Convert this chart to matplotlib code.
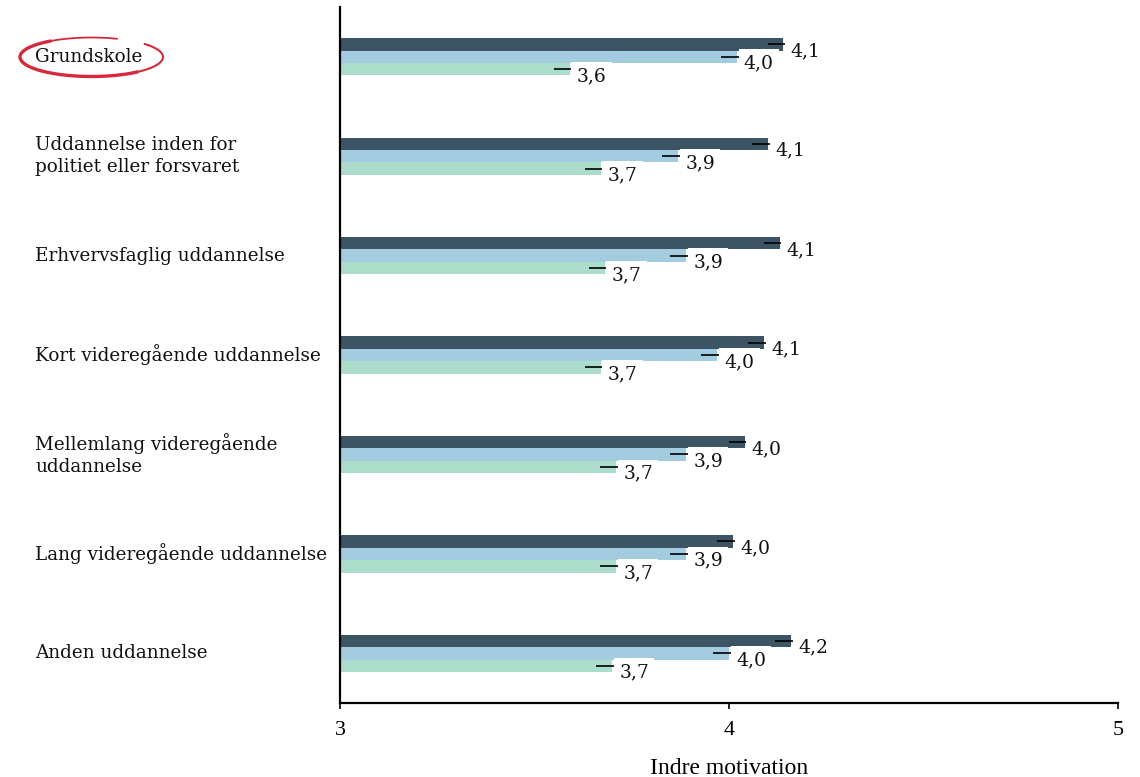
import matplotlib
matplotlib.use("Agg")
import matplotlib.pyplot as plt
from matplotlib.lines import Line2D
import numpy as np

categories = [
    "Grundskole",
    "Uddannelse inden for\npolitiet eller forsvaret",
    "Erhvervsfaglig uddannelse",
    "Kort videregående uddannelse",
    "Mellemlang videregående\nuddannelse",
    "Lang videregående uddannelse",
    "Anden uddannelse",
]
series_dark = [4.14, 4.10, 4.13, 4.09, 4.04, 4.01, 4.16]
series_light = [4.02, 3.87, 3.89, 3.97, 3.89, 3.89, 4.00]
series_green = [3.59, 3.67, 3.68, 3.67, 3.71, 3.71, 3.70]
ci_half = 0.041
xticks = [3, 4, 5]
xlabel = "Indre motivation"

colors = ["#3c5464", "#a3cce0", "#acdcca"]
series = [series_dark, series_light, series_green]

W, H = 1140, 777
fig = plt.figure(figsize=(W / 100, H / 100), dpi=100)
ax = fig.add_axes([340 / W, 1 - 703 / H, (1118 - 340) / W, (703 - 7) / H])

y = np.arange(len(categories))
h = 0.125
offsets = [-h, 0, h]
for vals, col, off in zip(series, colors, offsets):
    yy = y + off
    ax.barh(yy, np.array(vals) - 3, left=3, height=h, color=col, zorder=2)
    ax.errorbar(vals, yy, xerr=ci_half, fmt="none", ecolor="black",
                elinewidth=1.2, capsize=0, zorder=3)
    for v, yv in zip(vals, yy):
        ax.annotate(f"{v:.1f}".replace(".", ","), xy=(v, yv),
                    xytext=(7, -7), textcoords="offset pixels",
                    ha="left", va="center", fontsize=13.5,
                    family="DejaVu Serif", color="#111111", zorder=4,
                    bbox=dict(boxstyle="square,pad=0.28", fc="white", ec="none"))

ax.set_xlim(3, 5)
ax.set_ylim(6.5, -0.5)
ax.set_yticks([])
ax.set_xticks(xticks)
ax.set_xticklabels([str(t) for t in xticks], family="Liberation Serif", fontsize=16)
ax.tick_params(axis="x", direction="out", length=4, width=1.2, pad=9)
ax.set_xlabel(xlabel, family="Liberation Serif", fontsize=17, labelpad=13)
for s in ["top", "right"]:
    ax.spines[s].set_visible(False)
for s in ["left", "bottom"]:
    ax.spines[s].set_linewidth(1.6)
    ax.spines[s].set_color("black")

# category labels
for i, cat in enumerate(categories):
    ax.text(-(340 - 35) / 778, i, cat, transform=ax.get_yaxis_transform(),
            ha="left", va="center", fontsize=13.2, family="DejaVu Serif",
            color="#111111", linespacing=1.3)

# red swoosh ellipse around Grundskole (figure pixel coords -> fraction)
cx, cy, rx, ry = 91.5, 57.0, 71.5, 19.5
def ell(t0, t1, lw):
    t = np.radians(np.linspace(t0, t1, 200))
    xs = (cx + rx * np.cos(t)) / W
    ys = 1 - (cy - ry * np.sin(t)) / H
    fig.add_artist(Line2D(xs, ys, transform=fig.transFigure, color="#d42a3c",
                          lw=lw, solid_capstyle="round"))
ell(69, 130, 1.3)
ell(125, 310, 2.4)
ell(305, 402, 1.5)

fig.savefig("out.png", dpi=100)
